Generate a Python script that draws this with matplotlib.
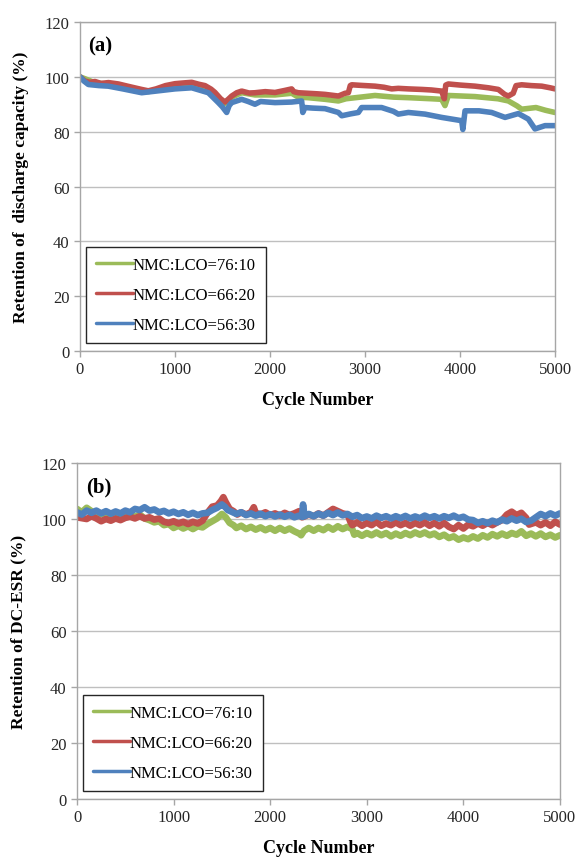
import matplotlib
matplotlib.use("Agg")
import matplotlib.pyplot as plt

plt.rcParams['font.family'] = ['Liberation Serif', 'DejaVu Serif']

GREEN = '#9BBB59'
RED = '#C0504D'
BLUE = '#4F81BD'
labels = ['NMC:LCO=76:10', 'NMC:LCO=66:20', 'NMC:LCO=56:30']

# ---- panel (a): retention of discharge capacity ----
a_green_x = [0, 60, 158, 300, 404, 500, 649, 719, 800, 900, 1000, 1176, 1316, 1421, 1526, 1597, 1702, 1842,
             2053, 2228, 2298, 2400, 2579, 2720, 2800, 3105, 3300, 3456, 3700, 3807, 3842, 3877, 4158, 4400,
             4509, 4600, 4649, 4800, 4900, 5000]
a_green_y = [100, 99.2, 97.8, 97.3, 97.0, 96.2, 95.0, 94.6, 95.2, 96.4, 96.8, 97.0, 96.0, 93.8, 90.3, 92.6, 94.2, 93.4,
             93.4, 94.0, 92.6, 92.4, 91.8, 91.2, 92.0, 93.2, 92.6, 92.4, 92.0, 91.8, 89.5, 93.2, 92.8, 92.0,
             91.2, 89.4, 88.2, 88.8, 87.8, 87.0]

a_red_x = [0, 50, 100, 158, 220, 300, 404, 500, 649, 719, 800, 900, 1000, 1100, 1176, 1250, 1316, 1380, 1421,
           1480, 1526, 1560, 1597, 1650, 1702, 1780, 1842, 1950, 2053, 2150, 2228, 2250, 2298, 2400, 2500, 2579,
           2650, 2720, 2790, 2825, 2845, 2860, 2950, 3105, 3200, 3281, 3350, 3456, 3600, 3700, 3807, 3835, 3850,
           3877, 4000, 4158, 4300, 4404, 4470, 4509, 4560, 4590, 4649, 4750, 4860, 4950, 5000]
a_red_y = [100, 98.5, 98.0, 98.3, 97.6, 97.9, 97.4, 96.6, 95.4, 94.9, 95.6, 96.8, 97.5, 97.8, 98.0, 97.3, 96.8, 95.5, 94.3,
           92.0, 90.8, 91.8, 93.0, 94.2, 94.8, 94.1, 94.2, 94.6, 94.3, 95.0, 95.6, 94.6, 94.2, 94.0, 93.8, 93.6,
           93.3, 93.0, 94.0, 94.2, 96.8, 97.1, 96.9, 96.6, 96.2, 95.6, 95.8, 95.6, 95.4, 95.2, 94.8, 92.0, 97.0,
           97.4, 97.0, 96.6, 96.0, 95.4, 93.6, 93.0, 94.0, 96.8, 97.1, 96.8, 96.6, 96.0, 95.6]

a_blue_x = [0, 40, 88, 200, 298, 450, 649, 800, 1000, 1176, 1351, 1456, 1500, 1544, 1570, 1597, 1702, 1770, 1842,
            1900, 2053, 2228, 2333, 2345, 2368, 2450, 2579, 2720, 2755, 2850, 2930, 2965, 3175, 3300, 3351, 3456,
            3632, 3807, 4018, 4030, 4053, 4200, 4333, 4474, 4614, 4719, 4789, 4895, 5000]
a_blue_y = [100, 98.5, 97.2, 96.8, 96.6, 95.6, 94.2, 94.8, 95.6, 96.0, 94.2, 90.6, 89.0, 87.0, 89.5, 90.6, 91.8, 91.0, 90.0,
            91.0, 90.6, 90.8, 91.2, 87.0, 88.8, 88.6, 88.4, 87.0, 85.8, 86.5, 87.0, 88.8, 88.8, 87.4, 86.4, 87.0,
            86.4, 85.2, 84.0, 80.8, 87.6, 87.6, 87.0, 85.2, 86.6, 84.6, 81.0, 82.2, 82.2]

# ---- panel (b): retention of DC-ESR ----
b_green_x = [0, 50, 100, 150, 200, 250, 300, 350, 400, 450, 500, 550, 600, 650, 700, 750, 800, 850, 900, 950,
             1000, 1050, 1100, 1150, 1200, 1250, 1300, 1350, 1400, 1450, 1500, 1540, 1580, 1620, 1650, 1700, 1750,
             1800, 1850, 1900, 1950, 2000, 2050, 2100, 2150, 2200, 2250, 2300, 2320, 2350, 2400, 2450, 2500, 2550,
             2600, 2650, 2700, 2750, 2800, 2850, 2870, 2900, 2950, 3000, 3050, 3100, 3150, 3200, 3250, 3300, 3350,
             3400, 3450, 3500, 3550, 3600, 3650, 3700, 3750, 3800, 3850, 3900, 3950, 4000, 4050, 4100, 4150, 4200,
             4250, 4300, 4350, 4400, 4450, 4500, 4550, 4600, 4650, 4700, 4750, 4800, 4850, 4900, 4950, 5000]
b_green_y = [103.6, 102.4, 104.0, 102.8, 101.4, 102.0, 100.8, 101.6, 100.8, 101.6, 100.6, 101.4, 100.8, 101.6, 100.2,
             99.6, 98.8, 99.2, 97.8, 98.2, 96.8, 97.6, 96.6, 97.4, 96.4, 97.4, 97.0, 98.2, 99.2, 100.2, 101.8, 100.6,
             98.6, 97.8, 96.8, 97.6, 96.4, 97.2, 96.2, 97.0, 96.0, 96.8, 95.8, 96.8, 95.8, 96.6, 95.6, 94.8, 94.2,
             95.8, 96.8, 95.8, 96.8, 96.0, 97.2, 96.2, 97.4, 96.4, 97.2, 96.4, 94.4, 95.0, 94.0, 95.0, 94.2, 95.2,
             94.2, 95.0, 93.8, 94.8, 94.0, 95.0, 94.2, 95.2, 94.4, 95.2, 94.2, 94.8, 93.6, 94.4, 93.2, 93.8, 92.6,
             93.4, 92.8, 93.8, 93.0, 94.2, 93.4, 94.6, 93.8, 94.8, 94.0, 95.0, 94.4, 95.6, 94.0, 94.8, 93.8, 94.8,
             93.6, 94.4, 93.4, 94.2]

b_red_x = [0, 100, 150, 200, 250, 300, 350, 400, 450, 500, 550, 600, 650, 700, 750, 800, 850, 900, 950, 1000,
           1050, 1100, 1150, 1200, 1250, 1300, 1350, 1400, 1450, 1490, 1515, 1540, 1580, 1620, 1660, 1700, 1750,
           1800, 1830, 1850, 1900, 1950, 2000, 2050, 2100, 2150, 2200, 2250, 2300, 2330, 2400, 2450, 2500, 2550,
           2600, 2650, 2700, 2750, 2800, 2830, 2850, 2900, 2950, 3000, 3050, 3100, 3150, 3200, 3250, 3300, 3350,
           3400, 3450, 3500, 3550, 3600, 3650, 3700, 3750, 3800, 3850, 3900, 3950, 4000, 4050, 4100, 4150, 4200,
           4250, 4300, 4350, 4400, 4450, 4500, 4550, 4600, 4650, 4680, 4750, 4800, 4850, 4900, 4950, 5000]
b_red_y = [100.6, 100.0, 101.0, 100.2, 99.2, 100.0, 99.4, 100.2, 99.6, 100.4, 100.8, 100.2, 101.0, 100.2, 100.6,
           99.8, 100.2, 99.0, 98.6, 99.2, 98.4, 99.0, 98.2, 99.0, 98.4, 99.4, 102.2, 104.4, 104.8, 106.4, 107.8,
           106.0, 103.6, 102.8, 101.6, 102.4, 101.6, 102.4, 104.2, 102.2, 101.6, 102.4, 101.4, 102.0, 101.2, 102.2,
           101.4, 102.0, 102.8, 100.6, 101.6, 101.0, 102.0, 101.2, 102.4, 103.6, 102.8, 102.0, 101.6, 99.0, 97.8,
           98.8, 97.6, 98.6, 97.8, 99.0, 97.6, 98.4, 97.8, 98.8, 97.8, 98.6, 97.6, 98.6, 97.8, 98.8, 97.6, 98.6,
           97.4, 98.6, 97.2, 96.4, 97.8, 96.6, 98.0, 97.4, 98.4, 97.6, 98.6, 97.8, 98.8, 99.6, 101.6, 102.6,
           101.4, 102.2, 100.4, 98.0, 98.8, 97.8, 98.8, 97.6, 99.0, 98.0]

b_blue_x = [0, 50, 100, 150, 200, 250, 300, 350, 400, 450, 500, 550, 600, 650, 700, 750, 800, 850, 900, 950,
            1000, 1050, 1100, 1150, 1200, 1250, 1300, 1350, 1400, 1450, 1500, 1530, 1560, 1600, 1650, 1700, 1750,
            1800, 1850, 1900, 1950, 2000, 2050, 2100, 2150, 2200, 2250, 2300, 2330, 2340, 2355, 2400, 2450, 2500,
            2550, 2600, 2650, 2700, 2750, 2800, 2850, 2900, 2950, 3000, 3050, 3100, 3150, 3200, 3250, 3300, 3350,
            3400, 3450, 3500, 3550, 3600, 3650, 3700, 3750, 3800, 3850, 3900, 3950, 4000, 4050, 4100, 4150, 4200,
            4250, 4300, 4350, 4400, 4450, 4500, 4550, 4600, 4650, 4700, 4750, 4800, 4850, 4900, 4950, 5000]
b_blue_y = [102.4, 101.6, 103.0, 102.2, 103.0, 102.0, 102.8, 101.9, 102.7, 102.0, 103.0, 102.4, 103.6, 103.2, 104.2,
            103.0, 103.4, 102.4, 102.9, 102.0, 102.6, 101.8, 102.4, 101.5, 102.2, 101.4, 102.0, 102.2, 103.2, 104.0,
            105.2, 104.4, 103.2, 102.6, 101.8, 102.4, 101.4, 102.0, 101.2, 101.9, 101.0, 101.7, 100.9, 101.6, 100.8,
            101.5, 100.6, 101.2, 100.8, 105.2, 101.0, 101.8, 101.0, 101.9, 101.2, 102.2, 101.4, 102.3, 101.3, 101.8,
            100.8, 101.4, 100.3, 100.9, 100.2, 101.2, 100.4, 101.0, 100.2, 101.0, 100.3, 101.1, 100.2, 100.9, 100.3,
            101.2, 100.4, 101.0, 100.2, 101.0, 100.4, 101.2, 100.3, 100.8, 99.8, 99.6, 98.6, 99.2, 98.5, 99.4, 98.8,
            99.8, 99.2, 100.2, 99.4, 100.1, 98.9, 99.4, 100.6, 101.8, 101.0, 102.0, 101.2, 102.0]

x_ticks = [0, 1000, 2000, 3000, 4000, 5000]
y_ticks = [0, 20, 40, 60, 80, 100, 120]

fig = plt.figure(figsize=(5.79, 8.62), dpi=100)
W, H = 579, 862
ax1 = fig.add_axes([80 / W, 1 - 352 / H, 475 / W, 329 / H])
ax2 = fig.add_axes([77 / W, 1 - 800 / H, 483 / W, 336 / H])


def style(ax, ylabel, tag, series, lw):
    for (x, y), c, lab in zip(series, [GREEN, RED, BLUE], labels):
        ax.plot(x, y, color=c, lw=lw, label=lab, solid_joinstyle='round', solid_capstyle='round')
    ax.set_xlim(0, 5000)
    ax.set_ylim(0, 120)
    ax.set_xticks(x_ticks)
    ax.set_yticks(y_ticks)
    ax.grid(axis='y', color='#BFBFBF', lw=1)
    ax.set_axisbelow(True)
    for s in ax.spines.values():
        s.set_color('#A6A6A6')
        s.set_linewidth(1)
    ax.tick_params(axis='both', colors='#A6A6A6', length=4, width=1, labelsize=12,
                   labelcolor='#262626', direction='out')
    ax.set_xlabel('Cycle Number', fontsize=13, fontweight='bold', labelpad=10)
    ax.set_ylabel(ylabel, fontsize=12.5, fontweight='bold', labelpad=11)
    ax.text(0.018, 0.93, tag, transform=ax.transAxes, fontsize=15, fontweight='bold', va='center')
    leg = ax.legend(loc='lower left', bbox_to_anchor=(0.013, 0.024), borderaxespad=0, fontsize=12,
                    handlelength=2.2, handletextpad=0.0, labelspacing=0.85, fancybox=False,
                    framealpha=1, edgecolor='#262626', borderpad=0.6)
    leg.get_frame().set_linewidth(1.0)
    for line in leg.get_lines():
        line.set_linewidth(2.5)


style(ax1, 'Retention of  discharge capacity (%)', '(a)',
      [(a_green_x, a_green_y), (a_red_x, a_red_y), (a_blue_x, a_blue_y)], 4.0)
style(ax2, 'Retention of DC-ESR (%)', '(b)',
      [(b_green_x, b_green_y), (b_red_x, b_red_y), (b_blue_x, b_blue_y)], 4.8)

fig.savefig('out.png', dpi=100)
